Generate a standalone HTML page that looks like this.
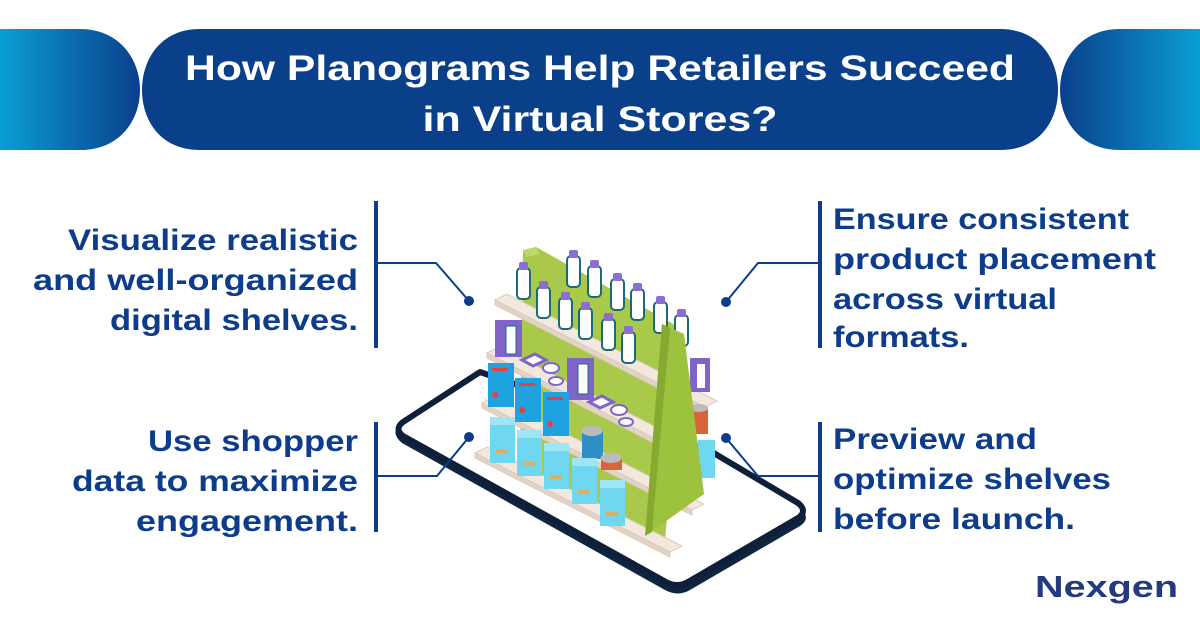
<!DOCTYPE html>
<html><head><meta charset="utf-8"><style>
html,body{margin:0;padding:0;background:#fff}
svg{display:block}
text{font-family:"Liberation Sans",sans-serif;font-weight:bold}
</style></head><body>
<svg width="1200" height="628" viewBox="0 0 1200 628" xmlns="http://www.w3.org/2000/svg">
<defs>
<linearGradient id="gl" x1="0" x2="1"><stop offset="0" stop-color="#0a9ed2"/><stop offset="1" stop-color="#0a3f8c"/></linearGradient>
<linearGradient id="gr" x1="0" x2="1"><stop offset="0" stop-color="#0a3f8c"/><stop offset="1" stop-color="#0a9ed2"/></linearGradient>
<g id="bt"><rect x="0" y="6" width="13" height="31" rx="4" fill="#fff" stroke="#1a6a78" stroke-width="2"/><rect x="2" y="0" width="9" height="8" rx="2" fill="#8a6fd0"/></g>
<g id="bag"><rect x="0" y="0" width="25" height="46" fill="#6fd8f0"/><rect x="0" y="0" width="25" height="8" fill="#9ee6f6"/><rect x="6" y="32" width="12" height="4" fill="#e0b060"/></g>
<g id="fish"><rect x="0" y="0" width="26" height="44" fill="#1fa2e0"/><circle cx="7" cy="32" r="3" fill="#e8403e"/><rect x="4" y="5" width="16" height="3" fill="#e8403e"/></g>
</defs>
<path d="M0 29 H80 C120 29 140 60 140 90 C140 120 120 150 80 150 H0Z" fill="url(#gl)"/>
<path d="M1200 29 H1120 C1080 29 1060 60 1060 90 C1060 120 1080 150 1120 150 H1200Z" fill="url(#gr)"/>
<path d="M200 29 H1000 C1040 29 1058 60 1058 90 C1058 120 1040 150 1000 150 H200 C160 150 142 120 142 90 C142 60 160 29 200 29Z" fill="#0a3f8a"/>
<text x="600" y="80" fill="#fff" font-size="35" text-anchor="middle" textLength="830" lengthAdjust="spacingAndGlyphs">How Planograms Help Retailers Succeed</text>
<text x="600" y="131" fill="#fff" font-size="35" text-anchor="middle" textLength="355" lengthAdjust="spacingAndGlyphs">in Virtual Stores?</text>

<g fill="#0d3d8a" font-size="30" text-anchor="end">
<text x="358" y="250" textLength="290" lengthAdjust="spacingAndGlyphs">Visualize realistic</text>
<text x="358" y="290" textLength="325" lengthAdjust="spacingAndGlyphs">and well-organized</text>
<text x="358" y="330" textLength="248" lengthAdjust="spacingAndGlyphs">digital shelves.</text>
<text x="358" y="451" textLength="210" lengthAdjust="spacingAndGlyphs">Use shopper</text>
<text x="358" y="491" textLength="286" lengthAdjust="spacingAndGlyphs">data to maximize</text>
<text x="358" y="531" textLength="222" lengthAdjust="spacingAndGlyphs">engagement.</text>
</g>
<g fill="#0d3d8a" font-size="30">
<text x="833" y="229" textLength="296" lengthAdjust="spacingAndGlyphs">Ensure consistent</text>
<text x="833" y="269" textLength="323" lengthAdjust="spacingAndGlyphs">product placement</text>
<text x="833" y="309" textLength="224" lengthAdjust="spacingAndGlyphs">across virtual</text>
<text x="833" y="347" textLength="136" lengthAdjust="spacingAndGlyphs">formats.</text>
<text x="833" y="449" textLength="204" lengthAdjust="spacingAndGlyphs">Preview and</text>
<text x="833" y="489" textLength="278" lengthAdjust="spacingAndGlyphs">optimize shelves</text>
<text x="833" y="529" textLength="242" lengthAdjust="spacingAndGlyphs">before launch.</text>
</g>
<text x="1035" y="597" fill="#253a7c" font-size="31" textLength="143" lengthAdjust="spacingAndGlyphs">Nexgen</text>

<!-- phone -->
<path d="M400 424 L478 374 L712 456 L800 508 Q812 518 800 526 L690 590 Q678 597 665 590 L402 443 Q390 433 400 424Z" fill="#0f2440"/>
<path d="M403 422 L480 372 L712 452 L798 503 Q808 511 798 518 L688 582 Q677 588 666 582 L403 436 Q394 429 403 422Z" fill="#fff" stroke="#0f1f38" stroke-width="6" stroke-linejoin="round"/>

<!-- back panel -->
<polygon points="523,250 536,247 684,330 665,540 520,470" fill="#a8c94a"/>
<polygon points="523,250 536,247 540,254 527,257" fill="#bcd86a"/>

<!-- shelves -->
<g fill="#f3e8de" stroke="#dccbbb" stroke-width="1">
<polygon points="495,300 507,294 717,401 705,407"/><polygon points="495,300 705,407 705,412 495,305" fill="#e2d3c6"/>
<polygon points="487,353 499,347 709,454 697,460"/><polygon points="487,353 697,460 697,465 487,358" fill="#e2d3c6"/>
<polygon points="482,403 494,397 704,504 692,510"/><polygon points="482,403 692,510 692,515 482,408" fill="#e2d3c6"/>
<polygon points="475,453 487,447 682,546 670,552"/><polygon points="475,453 670,552 670,557 475,458" fill="#e2d3c6"/>
</g>

<use href="#bt" x="567" y="250"/><use href="#bt" x="588" y="260"/><use href="#bt" x="611" y="273"/>
<use href="#bt" x="631" y="283"/><use href="#bt" x="654" y="296"/><use href="#bt" x="675" y="309"/>
<use href="#bt" x="517" y="262"/><use href="#bt" x="537" y="281"/><use href="#bt" x="559" y="292"/>
<use href="#bt" x="579" y="302"/><use href="#bt" x="602" y="313"/><use href="#bt" x="622" y="326"/>

<rect x="495" y="320" width="27" height="37" fill="#8064c8"/><rect x="506" y="326" width="10" height="28" fill="#fff" stroke="#1a6a78"/>
<rect x="567" y="358" width="27" height="42" fill="#8064c8"/><rect x="578" y="364" width="10" height="30" fill="#fff" stroke="#1a6a78"/>
<rect x="690" y="358" width="20" height="34" fill="#8064c8"/><rect x="697" y="364" width="8" height="24" fill="#fff"/>
<polygon points="522,360 535,354 546,360 533,366" fill="#fff" stroke="#8064c8" stroke-width="3"/>
<ellipse cx="551" cy="368" rx="8" ry="5" fill="#fff" stroke="#8064c8" stroke-width="2"/>
<ellipse cx="556" cy="381" rx="7" ry="4" fill="#fff" stroke="#8064c8" stroke-width="2"/>
<polygon points="589,402 602,396 613,402 600,408" fill="#fff" stroke="#8064c8" stroke-width="3"/>
<ellipse cx="619" cy="410" rx="8" ry="5" fill="#fff" stroke="#8064c8" stroke-width="2"/>
<ellipse cx="626" cy="422" rx="7" ry="4" fill="#fff" stroke="#8064c8" stroke-width="2"/>

<use href="#fish" x="488" y="363"/><use href="#fish" x="515" y="378"/><use href="#fish" x="543" y="392"/>
<rect x="582" y="431" width="21" height="28" fill="#2f8fc4"/><ellipse cx="592" cy="431" rx="10.5" ry="5" fill="#bbb"/>
<rect x="601" y="458" width="21" height="12" fill="#d8643a"/><ellipse cx="611" cy="458" rx="10.5" ry="5" fill="#bbb"/>
<rect x="690" y="408" width="18" height="26" fill="#d8643a"/><ellipse cx="699" cy="408" rx="9" ry="4" fill="#bbb"/>

<use href="#bag" x="490" y="417"/><use href="#bag" x="517" y="430"/><use href="#bag" x="544" y="443"/>
<use href="#bag" x="572" y="458"/><use href="#bag" x="600" y="480"/>
<rect x="698" y="440" width="17" height="38" fill="#6fd8f0"/>

<!-- side panel -->
<polygon points="662,324 684,334 704,494 645,536" fill="#9cc23e"/>
<polygon points="662,324 670,328 652,532 645,536" fill="#86aa30"/>

<g stroke="#0d3d8a" fill="none">
<line x1="376" y1="201" x2="376" y2="348" stroke-width="4"/>
<line x1="376" y1="422" x2="376" y2="532" stroke-width="4"/>
<line x1="820" y1="201" x2="820" y2="348" stroke-width="4"/>
<line x1="820" y1="422" x2="820" y2="532" stroke-width="4"/>
<polyline points="376,263 436,263 469,301" stroke-width="2"/>
<polyline points="376,476 437,476 469,437" stroke-width="2"/>
<polyline points="820,263 758,263 726,302" stroke-width="2"/>
<polyline points="820,476 758,476 726,438" stroke-width="2"/>
</g>
<g fill="#0d3d8a">
<circle cx="469" cy="301" r="5"/><circle cx="469" cy="437" r="5"/>
<circle cx="726" cy="302" r="5"/><circle cx="726" cy="438" r="5"/>
</g>
</svg>
</body></html>
